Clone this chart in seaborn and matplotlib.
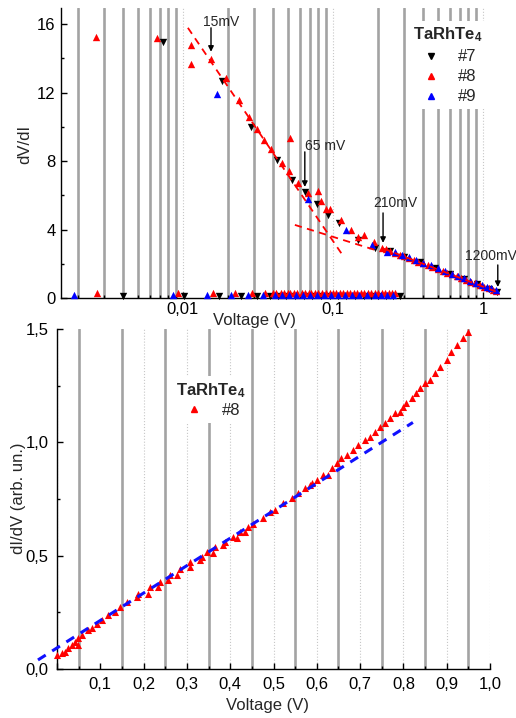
import seaborn as sns
import matplotlib
matplotlib.use("Agg")
import matplotlib.pyplot as plt
import matplotlib.ticker as mticker
from matplotlib.lines import Line2D
import pandas as pd

# ---------------- top panel data: dV/dI vs V (log) ----------------
v7 = [0.00736, 0.0181, 0.0285, 0.0422, 0.0531, 0.065, 0.0778, 0.093, 0.110, 0.148,
      0.19, 0.24, 0.30, 0.38, 0.48, 0.60, 0.75, 0.92, 1.10, 1.24]
r7 = [14.97, 12.68, 10.0, 8.09, 6.92, 6.17, 5.51, 4.87, 4.41, 3.40,
      2.91, 2.72, 2.42, 2.08, 1.74, 1.42, 1.10, 0.80, 0.55, 0.36]

v8 = [0.00262, 0.00674, 0.0113, 0.0113, 0.0154, 0.0195, 0.0236, 0.0277, 0.0313, 0.0347,
      0.0384, 0.0455, 0.0512, 0.0517, 0.0582, 0.0685, 0.0798, 0.0832, 0.0898, 0.0955,
      0.113, 0.133, 0.148, 0.161, 0.188, 0.214,
      0.225, 0.24, 0.26, 0.28, 0.30, 0.32, 0.345, 0.37, 0.40, 0.43, 0.46, 0.50, 0.54,
      0.58, 0.62, 0.67, 0.72, 0.77, 0.83, 0.89, 0.95, 1.02, 1.09, 1.16, 1.23]
r8 = [15.28, 15.22, 14.77, 13.66, 13.99, 12.84, 11.6, 10.59, 9.85, 9.26,
      8.68, 7.9, 7.4, 9.36, 6.72, 6.14, 6.23, 5.64, 5.2, 5.2,
      4.57, 3.99, 3.56, 3.69, 3.30, 2.91,
      2.85, 2.75, 2.64, 2.53, 2.43, 2.34, 2.23, 2.13, 2.02, 1.91, 1.81, 1.69, 1.58,
      1.47, 1.38, 1.27, 1.16, 1.06, 0.95, 0.85, 0.76, 0.66, 0.56, 0.47, 0.38]

v9 = [0.0168, 0.0678, 0.123, 0.181, 0.228,
      0.26, 0.29, 0.32, 0.36, 0.40, 0.45, 0.50, 0.56, 0.62, 0.68, 0.75, 0.82, 0.90,
      0.98, 1.06, 1.14, 1.22]
r9 = [11.94, 5.79, 3.99, 3.11, 2.71,
      2.68, 2.53, 2.39, 2.22, 2.07, 1.90, 1.74, 1.57, 1.43, 1.30, 1.15, 1.02, 0.88,
      0.77, 0.66, 0.56, 0.47]

# points lying on the zero line
v7_low = [0.00397, 0.0102, 0.0174, 0.0244, 0.0313, 0.038, 0.043, 0.049, 0.056, 0.064,
          0.073, 0.083, 0.095, 0.108, 0.123, 0.14, 0.16, 0.18, 0.20, 0.225, 0.25, 0.28]
v8_low = [0.00266, 0.0093, 0.0158, 0.0223, 0.0287, 0.0352, 0.040, 0.042, 0.045, 0.047,
          0.050, 0.052, 0.055, 0.058, 0.062, 0.065, 0.069, 0.072, 0.076, 0.080, 0.085,
          0.090, 0.095, 0.10, 0.105, 0.111, 0.117, 0.124, 0.131, 0.138, 0.145, 0.153,
          0.162, 0.171, 0.180, 0.190, 0.200, 0.211, 0.223, 0.235, 0.248, 0.26]
v9_low = [0.00188, 0.00854, 0.0144, 0.0209, 0.0273, 0.034, 0.041, 0.046, 0.051, 0.057,
          0.063, 0.070, 0.078, 0.087, 0.097, 0.108, 0.12, 0.135, 0.15, 0.17, 0.19, 0.21,
          0.23, 0.25]
low_level = {"#7": 0.12, "#8": 0.30, "#9": 0.20}

# dashed fits (semi-log straight lines)
fit1_v, fit1_r = [0.0108, 0.117], [15.79, 2.46]
fit2_v, fit2_r = [0.0558, 0.1905], [4.27, 2.81]
fit3_v, fit3_r = [0.215, 1.24], [2.90, 0.35]

# arrows: label, x, text x, text y, arrow start y, arrow end y
arrow_lbl = ["15mV", "65 mV", "210mV", "1200mV"]
arrow_x = [0.0154, 0.065, 0.216, 1.257]
arrow_tx = [0.0136, 0.0651, 0.185, 0.759]
arrow_ty = [16.14, 8.89, 5.58, 2.43]
arrow_y0 = [15.79, 8.54, 4.97, 1.93]
arrow_y1 = [14.39, 6.49, 3.22, 0.64]

# ---------------- bottom panel data: dI/dV vs V ----------------
g_v = [0.001, 0.011, 0.018, 0.026, 0.034, 0.042, 0.049, 0.049, 0.057, 0.072, 0.080,
       0.092, 0.103, 0.118, 0.133, 0.145, 0.161, 0.184, 0.188, 0.211, 0.215, 0.234,
       0.238, 0.257, 0.261, 0.276, 0.284, 0.307, 0.307, 0.330, 0.334, 0.346, 0.361,
       0.365, 0.384, 0.388, 0.407, 0.415, 0.422, 0.434, 0.441, 0.453, 0.476, 0.492,
       0.503, 0.523, 0.542, 0.557, 0.573, 0.584, 0.588, 0.600, 0.615, 0.626, 0.634,
       0.646, 0.657, 0.669, 0.684, 0.696, 0.711, 0.723, 0.734, 0.746, 0.757, 0.769,
       0.781, 0.792, 0.800, 0.807, 0.819, 0.830, 0.838, 0.850, 0.861, 0.873, 0.884,
       0.900, 0.911, 0.923, 0.938, 0.950]
g_y = [0.062, 0.069, 0.076, 0.091, 0.106, 0.120, 0.135, 0.106, 0.150, 0.172, 0.180,
       0.200, 0.216, 0.238, 0.253, 0.275, 0.297, 0.319, 0.333, 0.333, 0.363, 0.363,
       0.385, 0.392, 0.414, 0.414, 0.443, 0.450, 0.473, 0.480, 0.495, 0.517, 0.510,
       0.539, 0.547, 0.561, 0.583, 0.576, 0.605, 0.605, 0.627, 0.642, 0.665, 0.694,
       0.701, 0.731, 0.753, 0.775, 0.797, 0.812, 0.819, 0.834, 0.856, 0.856, 0.885,
       0.907, 0.929, 0.944, 0.966, 0.988, 1.010, 1.025, 1.047, 1.069, 1.084, 1.106,
       1.128, 1.135, 1.157, 1.172, 1.194, 1.216, 1.238, 1.260, 1.275, 1.304, 1.334,
       1.363, 1.400, 1.429, 1.459, 1.488]
lin_v, lin_g = [-0.044, 0.822], [0.04, 1.088]

sns.set_style("white")
plt.rcParams["font.family"] = ["Liberation Sans", "DejaVu Sans"]
plt.rcParams["mathtext.fontset"] = "custom"
plt.rcParams["mathtext.rm"] = "Liberation Sans"
plt.rcParams["mathtext.bf"] = "Liberation Sans:bold"

colors = {"#7": "black", "#8": "red", "#9": "blue"}
markers = {"#7": "v", "#8": "^", "#9": "^"}
GRID_THICK = dict(color="0.64", lw=1.9, linestyle="-")
GRID_THIN = dict(color="0.78", lw=0.8, linestyle=":")


def style_axis(ax):
    for s in ["top", "right"]:
        ax.spines[s].set_visible(False)
    for s in ["left", "bottom"]:
        ax.spines[s].set_linewidth(1.0)
        ax.spines[s].set_color("black")
    ax.tick_params(which="both", direction="in", colors="black", labelsize=12,
                   top=False, right=False, left=True, bottom=True)
    ax.tick_params(which="major", length=4, width=1)
    ax.tick_params(which="minor", length=2.5, width=1)


fig = plt.figure(figsize=(5.16, 7.18), dpi=100)
ax1 = fig.add_axes([0.1182, 0.5850, 0.870, 0.4039])
ax2 = fig.add_axes([0.1105, 0.0682, 0.8391, 0.4735])

# ---------------- top panel ----------------
top = pd.concat([
    pd.DataFrame({"V": v7 + v7_low, "R": r7 + [low_level["#7"]] * len(v7_low), "s": "#7"}),
    pd.DataFrame({"V": v8 + v8_low, "R": r8 + [low_level["#8"]] * len(v8_low), "s": "#8"}),
    pd.DataFrame({"V": v9 + v9_low, "R": r9 + [low_level["#9"]] * len(v9_low), "s": "#9"}),
])
for name, sub in top.groupby("s"):
    sns.scatterplot(data=sub, x="V", y="R", ax=ax1, color=colors[name],
                    marker=markers[name], s=28, linewidth=0, zorder=3,
                    clip_on=False, legend=False)

for fv, fr in [(fit1_v, fit1_r), (fit2_v, fit2_r), (fit3_v, fit3_r)]:
    sns.lineplot(x=fv, y=fr, ax=ax1, color="red", lw=1.3, zorder=4,
                 dashes=False, linestyle=(0, (4, 3)))

for lbl, x, tx, ty, y0, y1 in zip(arrow_lbl, arrow_x, arrow_tx, arrow_ty, arrow_y0, arrow_y1):
    ax1.annotate("", xy=(x, y1), xytext=(x, y0),
                 arrowprops=dict(arrowstyle="-|>", color="black", lw=1,
                                 mutation_scale=8, shrinkA=0, shrinkB=0),
                 zorder=5, annotation_clip=False)
    ax1.text(tx, ty, lbl, fontsize=10, ha="left", va="center", zorder=5)

ax1.set_xscale("log")
ax1.set_xlim(0.00154, 1.514)
ax1.set_ylim(0, 16.95)
style_axis(ax1)
ax1.xaxis.set_major_locator(mticker.FixedLocator([0.01, 0.1, 1]))
ax1.xaxis.set_major_formatter(mticker.FixedFormatter(["0,01", "0,1", "1"]))
ax1.xaxis.set_minor_locator(mticker.LogLocator(base=10, subs=range(2, 10), numticks=20))
ax1.xaxis.set_minor_formatter(mticker.NullFormatter())
ax1.yaxis.set_major_locator(mticker.MultipleLocator(4))
ax1.yaxis.set_minor_locator(mticker.MultipleLocator(2))
ax1.grid(True, which="minor", axis="x", **GRID_THICK)
ax1.grid(True, which="major", axis="x", **GRID_THIN)
ax1.set_axisbelow(True)
ax1.tick_params(axis="x", pad=3)
ax1.tick_params(axis="y", pad=4)
ax1.set_xlabel("Voltage (V)", fontsize=12)
ax1.set_ylabel("dV/dI", fontsize=12)
ax1.xaxis.set_label_coords(0.43, -0.076)
ax1.yaxis.set_label_coords(-0.080, 0.531)
ax1.xaxis.label.set_va("center")
ax1.yaxis.label.set_va("center")

h1 = [Line2D([], [], ls="", marker=markers[k], color=colors[k], markersize=5) for k in ["#7", "#8", "#9"]]
leg1 = ax1.legend(h1, ["#7", "#8", "#9"], title=r"$\mathbf{TaRhTe_4}$", loc="upper left",
                  bbox_to_anchor=(0.754, 0.985), fontsize=12, title_fontsize=12,
                  frameon=True, facecolor="white", edgecolor="none", framealpha=1,
                  handletextpad=0.9, labelspacing=0.3, borderpad=0.3, handlelength=1.5)
leg1.set_zorder(6)

# ---------------- bottom panel ----------------
bot = pd.DataFrame({"V": g_v, "G": g_y})
sns.scatterplot(data=bot, x="V", y="G", ax=ax2, color="red", marker="^", s=26,
                linewidth=0, zorder=3, clip_on=False, legend=False)
line = ax2.plot(lin_v, lin_g, color="#1010ff", lw=2.2, dashes=(3, 2.5), zorder=4)[0]
line.set_clip_on(False)

ax2.set_xlim(0, 1.0)
ax2.set_ylim(0, 1.5)
style_axis(ax2)
ax2.xaxis.set_major_locator(mticker.FixedLocator([0.0, 0.1, 0.2, 0.3, 0.4, 0.5, 0.6, 0.7, 0.8, 0.9, 1.0]))
ax2.xaxis.set_major_formatter(mticker.FuncFormatter(lambda v, p: "" if v == 0 else f"{v:.1f}".replace(".", ",")))
ax2.xaxis.set_minor_locator(mticker.MultipleLocator(0.05))
ax2.yaxis.set_major_locator(mticker.MultipleLocator(0.5))
ax2.yaxis.set_minor_locator(mticker.MultipleLocator(0.25))
ax2.yaxis.set_major_formatter(mticker.FuncFormatter(lambda v, p: f"{v:.1f}".replace(".", ",")))
ax2.grid(True, which="minor", axis="x", **GRID_THICK)
ax2.grid(True, which="major", axis="x", **GRID_THIN)
ax2.set_axisbelow(True)
ax2.tick_params(axis="x", pad=6)
ax2.tick_params(axis="y", pad=6)
for t in ax2.xaxis.get_major_ticks():
    if t.get_loc() in (0.0, 1.0):
        t.gridline.set_visible(False)
ax2.set_xlabel("Voltage (V)", fontsize=12)
ax2.set_ylabel("dI/dV (arb. un.)", fontsize=12)
ax2.xaxis.set_label_coords(0.487, -0.106)
ax2.yaxis.set_label_coords(-0.088, 0.503)
ax2.xaxis.label.set_va("center")
ax2.yaxis.label.set_va("center")

h2 = [Line2D([], [], ls="", marker="^", color="red", markersize=5)]
leg2 = ax2.legend(h2, ["#8"], title=r"$\mathbf{TaRhTe_4}$", loc="upper left",
                  bbox_to_anchor=(0.245, 0.885), fontsize=12, title_fontsize=12,
                  frameon=True, facecolor="white", edgecolor="none", framealpha=1,
                  handletextpad=0.9, labelspacing=0.15, borderpad=0.3, handlelength=1.5)
leg2.set_zorder(6)

fig.savefig("out.png", dpi=100)
